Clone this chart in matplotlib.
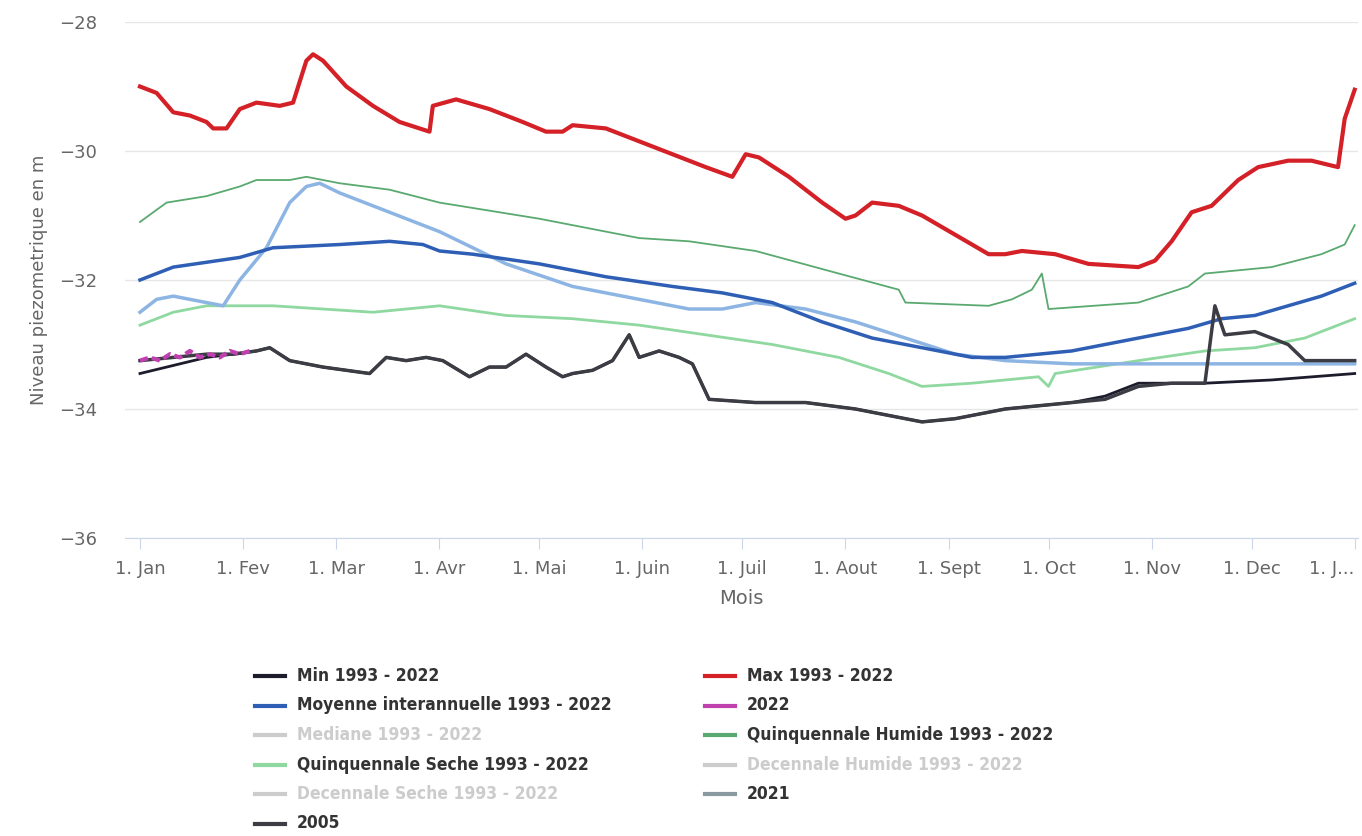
import matplotlib
matplotlib.use("Agg")
import matplotlib.pyplot as plt
from matplotlib.lines import Line2D
import numpy as np

month_days = [0, 31, 59, 90, 120, 151, 181, 212, 243, 273, 304, 334, 365]
month_labels = ["1. Jan", "1. Fev", "1. Mar", "1. Avr", "1. Mai", "1. Juin", "1. Juil",
                "1. Aout", "1. Sept", "1. Oct", "1. Nov", "1. Dec", "1. J..."]

max_d = [0,5,10,15,20,22,26,30,35,42,46,50,52,55,62,70,78,87,88,95,105,115,122,127,130,140,150,160,170,178,182,186,195,205,212,215,220,228,235,245,255,260,265,275,285,300,305,310,316,322,330,336,345,352,360,362,365]
max_v = [-29.0,-29.1,-29.4,-29.45,-29.55,-29.65,-29.65,-29.35,-29.25,-29.3,-29.25,-28.6,-28.5,-28.6,-29.0,-29.3,-29.55,-29.7,-29.3,-29.2,-29.35,-29.55,-29.7,-29.7,-29.6,-29.65,-29.85,-30.05,-30.25,-30.4,-30.05,-30.1,-30.4,-30.8,-31.05,-31.0,-30.8,-30.85,-31.0,-31.3,-31.6,-31.6,-31.55,-31.6,-31.75,-31.8,-31.7,-31.4,-30.95,-30.85,-30.45,-30.25,-30.15,-30.15,-30.25,-29.5,-29.05]

qh_d = [0,8,20,30,35,45,50,60,75,90,120,150,165,185,210,228,230,255,262,268,271,273,300,315,320,340,355,362,365]
qh_v = [-31.1,-30.8,-30.7,-30.55,-30.45,-30.45,-30.4,-30.5,-30.6,-30.8,-31.05,-31.35,-31.4,-31.55,-31.9,-32.15,-32.35,-32.4,-32.3,-32.15,-31.9,-32.45,-32.35,-32.1,-31.9,-31.8,-31.6,-31.45,-31.15]

moy_d = [0,10,30,40,60,75,85,90,100,120,140,160,175,190,205,220,235,250,260,280,300,315,325,335,345,355,365]
moy_v = [-32.0,-31.8,-31.65,-31.5,-31.45,-31.4,-31.45,-31.55,-31.6,-31.75,-31.95,-32.1,-32.2,-32.35,-32.65,-32.9,-33.05,-33.2,-33.2,-33.1,-32.9,-32.75,-32.6,-32.55,-32.4,-32.25,-32.05]

qs_d = [0,10,20,40,55,70,90,110,130,150,170,190,210,225,235,250,270,273,275,300,320,335,350,365]
qs_v = [-32.7,-32.5,-32.4,-32.4,-32.45,-32.5,-32.4,-32.55,-32.6,-32.7,-32.85,-33.0,-33.2,-33.45,-33.65,-33.6,-33.5,-33.65,-33.45,-33.25,-33.1,-33.05,-32.9,-32.6]

y21_d = [0,5,10,15,25,30,38,45,50,54,60,70,80,90,100,110,130,150,165,175,185,200,215,230,245,260,280,300,320,340,365]
y21_v = [-32.5,-32.3,-32.25,-32.3,-32.4,-32.0,-31.5,-30.8,-30.55,-30.5,-30.65,-30.85,-31.05,-31.25,-31.5,-31.75,-32.1,-32.3,-32.45,-32.45,-32.35,-32.45,-32.65,-32.9,-33.15,-33.25,-33.3,-33.3,-33.3,-33.3,-33.3]

y05_d = [0,10,20,28,35,39,45,55,62,69,74,80,86,91,99,105,110,116,122,127,130,136,142,147,150,156,162,166,171,185,200,215,225,235,245,260,280,290,300,310,320,323,326,335,345,350,365]
y05_v = [-33.25,-33.2,-33.15,-33.15,-33.1,-33.05,-33.25,-33.35,-33.4,-33.45,-33.2,-33.25,-33.2,-33.25,-33.5,-33.35,-33.35,-33.15,-33.35,-33.5,-33.45,-33.4,-33.25,-32.85,-33.2,-33.1,-33.2,-33.3,-33.85,-33.9,-33.9,-34.0,-34.1,-34.2,-34.15,-34.0,-33.9,-33.85,-33.65,-33.6,-33.6,-32.4,-32.85,-32.8,-33.0,-33.25,-33.25]

min_d = [0,8,20,28,35,39,45,55,62,69,74,80,86,91,99,105,110,116,122,127,130,136,142,147,150,156,162,166,171,185,200,215,225,235,245,260,280,290,300,320,340,365]
min_v = [-33.45,-33.35,-33.2,-33.15,-33.1,-33.05,-33.25,-33.35,-33.4,-33.45,-33.2,-33.25,-33.2,-33.25,-33.5,-33.35,-33.35,-33.15,-33.35,-33.5,-33.45,-33.4,-33.25,-32.85,-33.2,-33.1,-33.2,-33.3,-33.85,-33.9,-33.9,-34.0,-34.1,-34.2,-34.15,-34.0,-33.9,-33.8,-33.6,-33.6,-33.55,-33.45]

y22_d = [0,3,6,9,12,15,18,21,24,27,30,33]
y22_v = [-33.25,-33.2,-33.25,-33.15,-33.2,-33.1,-33.2,-33.15,-33.2,-33.1,-33.15,-33.1]

C_MAX = "#d42027"; C_QH = "#5aa970"; C_MOY = "#2e5fb5"; C_QS = "#8fd8a0"
C_21 = "#8db5e3"; C_05 = "#3c3c44"; C_MIN = "#1c1c2c"; C_22 = "#c040b0"

fig = plt.figure(figsize=(13.62, 8.36), dpi=100)
ax = fig.add_axes([125/1362, 1-538/836, (1358-125)/1362, (538-22)/836])
ax.plot(max_d, max_v, color=C_MAX, lw=3)
ax.plot(qh_d, qh_v, color=C_QH, lw=1.3)
ax.plot(qs_d, qs_v, color=C_QS, lw=2)
ax.plot(y21_d, y21_v, color=C_21, lw=2.5)
ax.plot(moy_d, moy_v, color=C_MOY, lw=2.5)
ax.plot(min_d, min_v, color=C_MIN, lw=2)
ax.plot(y05_d, y05_v, color=C_05, lw=2.5)
ax.plot(y22_d, y22_v, color=C_22, lw=3, ls=(0, (2, 1)))

ax.set_xlim(-4.5, 366)
ax.set_ylim(-36, -28)
ax.set_yticks([-36, -34, -32, -30, -28])
ax.set_yticklabels(["\u221236", "\u221234", "\u221232", "\u221230", "\u221228"])
ax.set_xticks(month_days)
ax.set_xticklabels(month_labels)
ax.get_xticklabels()[-1].set_horizontalalignment("right")
ax.get_xticklabels()[-1].set_x(ax.get_xticklabels()[-1].get_position()[0])
ax.grid(axis="y", color="#e6e6e6", lw=1)
ax.set_axisbelow(True)
for s in ["top", "right", "left"]:
    ax.spines[s].set_visible(False)
ax.spines["bottom"].set_color("#ccd6eb")
ax.tick_params(axis="x", colors="#666666", labelsize=13, length=8, color="#ccd6eb", pad=8)
ax.tick_params(axis="y", colors="#666666", labelsize=13, length=0, pad=20)
ax.set_xlabel("Mois", color="#666666", fontsize=14, labelpad=8)
ax.set_ylabel("Niveau piezometrique en m", color="#666666", fontsize=13, labelpad=8)

entries = [
    ("Min 1993 - 2022", C_MIN, True, 0, 0),
    ("Max 1993 - 2022", C_MAX, True, 1, 0),
    ("Moyenne interannuelle 1993 - 2022", C_MOY, True, 0, 1),
    ("2022", C_22, True, 1, 1),
    ("Mediane 1993 - 2022", "#cccccc", False, 0, 2),
    ("Quinquennale Humide 1993 - 2022", C_QH, True, 1, 2),
    ("Quinquennale Seche 1993 - 2022", C_QS, True, 0, 3),
    ("Decennale Humide 1993 - 2022", "#cccccc", False, 1, 3),
    ("Decennale Seche 1993 - 2022", "#cccccc", False, 0, 4),
    ("2021", "#8a9aa0", True, 1, 4),
    ("2005", C_05, True, 0, 5),
]
for label, col, vis, c, r in entries:
    x0 = 255 if c == 0 else 705
    y = 676 + r * 29.5
    fy = 1 - y / 836
    fig.add_artist(Line2D([x0/1362, (x0+30)/1362], [fy, fy], color=col, lw=3,
                          transform=fig.transFigure))
    fig.text((x0+42)/1362, fy, label, va="center", ha="left", fontsize=12.5,
             fontweight="bold", fontstretch="condensed",
             color="#333333" if vis else "#cccccc")

fig.savefig("out.png", dpi=100)
